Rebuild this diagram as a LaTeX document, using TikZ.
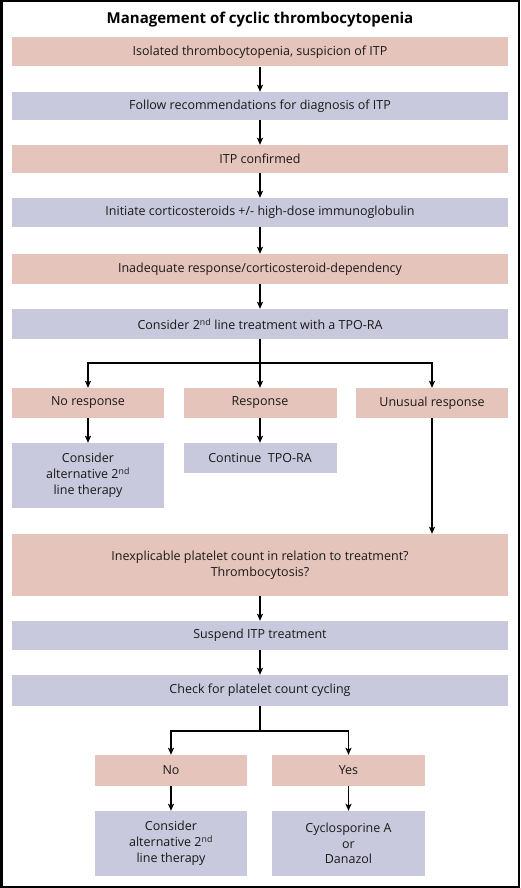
\documentclass[tikz,border=0pt]{standalone}
\usepackage{fontspec}
\setmainfont{Open Sans}
\usetikzlibrary{arrows.meta}
\definecolor{pinkc}{RGB}{229,196,187}
\definecolor{bluec}{RGB}{200,201,220}
\definecolor{txtc}{RGB}{25,25,25}
\begin{document}
\begin{tikzpicture}[x=1pt,y=-1pt,
  box/.style={inner sep=0pt, align=center, text=txtc, font=\fontsize{12.5}{15.8}\selectfont, minimum width=#1},
  box/.default=496pt,
  pinkbox/.style={box=#1, fill=pinkc},
  pinkbox/.default=496pt,
  bluebox/.style={box=#1, fill=bluec},
  bluebox/.default=496pt,
  arr/.style={line width=1.3pt, draw=black, -{Stealth[length=7pt,width=6pt,inset=1.5pt]}},
  ln/.style={line width=1.3pt, draw=black}]
\useasboundingbox (0,0) rectangle (520,888);
\draw[line width=2.5pt] (1.25,1.25) rectangle (518.75,886.75);
\node[font=\bfseries\fontsize{15}{17}\selectfont, text=black] (title) at (260,20) {Management of cyclic thrombocytopenia};
\node[pinkbox, minimum height=29pt] (b1) at (260,52) {Isolated thrombocytopenia, suspicion of ITP};
\node[bluebox, minimum height=28pt] (b2) at (260,106) {Follow recommendations for diagnosis of ITP};
\node[pinkbox, minimum height=28pt] (b3) at (260,159) {ITP confirmed};
\node[bluebox, minimum height=29pt] (b4) at (260,212.5) {Initiate corticosteroids +/- high-dose immunoglobulin};
\node[pinkbox, minimum height=30pt] (b5) at (260,269) {Inadequate response/corticosteroid-dependency};
\node[bluebox, minimum height=30pt] (b6) at (260,324) {Consider 2\textsuperscript{nd} line treatment with a TPO-RA};
\node[pinkbox=152pt, minimum height=30pt] (r1) at (88,403) {No response};
\node[pinkbox=153pt, minimum height=30pt] (r2) at (260,403) {Response};
\node[pinkbox=152pt, minimum height=30pt] (r3) at (432,403) {Unusual response};
\node[bluebox=152pt, minimum height=65pt] (a1) at (88,475.5) {Consider\\alternative 2\textsuperscript{nd}\\line therapy};
\node[bluebox=153pt, minimum height=30pt] (a2) at (260,458) {Continue~~TPO-RA};
\node[pinkbox, minimum height=62pt] (big) at (260,565) {Inexplicable platelet count in relation to treatment?\\Thrombocytosis?};
\node[bluebox, minimum height=29pt] (sus) at (260,635.5) {Suspend ITP treatment};
\node[bluebox, minimum height=31pt] (chk) at (260,690.5) {Check for platelet count cycling};
\node[pinkbox=152pt, minimum height=31pt] (no) at (171,770.5) {No};
\node[pinkbox=153pt, minimum height=31pt] (yes) at (348.5,770.5) {Yes};
\node[bluebox=152pt, minimum height=65pt] (n2) at (171,843.5) {Consider\\alternative 2\textsuperscript{nd}\\line therapy};
\node[bluebox=153pt, minimum height=65pt] (y2) at (348.5,843.5) {Cyclosporine A\\or\\Danazol};
\coordinate (j1) at (260,363);
\coordinate (j2) at (260,731);
\draw[arr] (b1) -- (b2);
\draw[arr] (b2) -- (b3);
\draw[arr] (b3) -- (b4);
\draw[arr] (b4) -- (b5);
\draw[arr] (b5) -- (b6);
\draw[ln] (b6.south) -- (j1);
\draw[arr] (j1) -| (r1);
\draw[arr] (j1) -| (r3);
\draw[arr] (j1) -- (r2);
\draw[arr] (r1) -- (a1);
\draw[arr] (r2) -- (a2);
\draw[arr] (r3) -- (r3 |- big.north);
\draw[arr] (big) -- (sus);
\draw[arr] (sus) -- (chk);
\draw[ln] (chk.south) -- (j2);
\draw[arr] (j2) -| (no);
\draw[arr] (j2) -| (yes);
\draw[arr] (no) -- (n2);
\draw[arr] (yes) -- (y2);
\end{tikzpicture}
\end{document}
